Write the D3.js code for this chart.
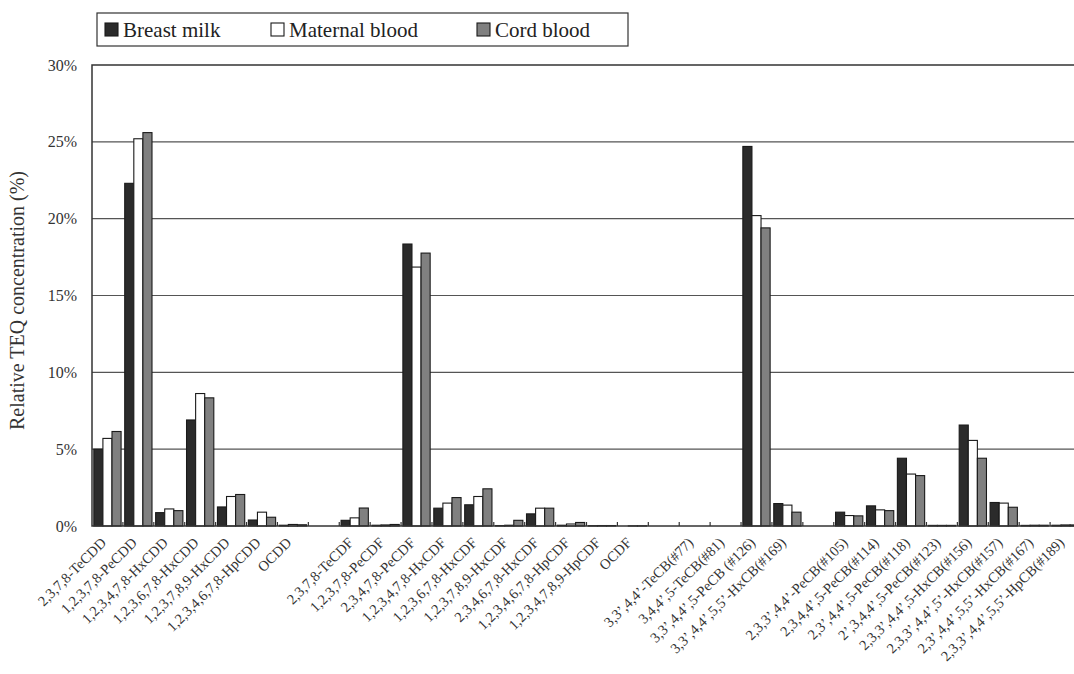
<!DOCTYPE html>
<html>
<head>
<meta charset="utf-8">
<script src="https://cdn.jsdelivr.net/npm/d3@7"></script>
<style>
  body { margin: 0; background: #fff; }
  svg { display: block; font-family: "Liberation Serif", "DejaVu Serif", serif; }
</style>
</head>
<body>
<div id="chart"></div>
<script>
// Congeners, in display order ("" = gap between groups)
const congeners = [
    "2,3,7,8-TeCDD", "1,2,3,7,8-PeCDD", "1,2,3,4,7,8-HxCDD", "1,2,3,6,7,8-HxCDD",
    "1,2,3,7,8,9-HxCDD", "1,2,3,4,6,7,8-HpCDD", "OCDD",
    "",
    "2,3,7,8-TeCDF", "1,2,3,7,8-PeCDF", "2,3,4,7,8-PeCDF", "1,2,3,4,7,8-HxCDF",
    "1,2,3,6,7,8-HxCDF", "1,2,3,7,8,9-HxCDF", "2,3,4,6,7,8-HxCDF",
    "1,2,3,4,6,7,8-HpCDF", "1,2,3,4,7,8,9-HpCDF", "OCDF",
    "",
    "3,3’,4,4’-TeCB(#77)", "3,4,4’,5-TeCB(#81)", "3,3’,4,4’,5-PeCB (#126)",
    "3,3’,4,4’,5,5’-HxCB(#169)",
    "",
    "2,3,3’,4,4’-PeCB(#105)", "2,3,4,4’,5-PeCB(#114)", "2,3’,4,4’,5-PeCB(#118)",
    "2’,3,4,4’,5-PeCB(#123)", "2,3,3’,4,4’,5-HxCB(#156)", "2,3,3’,4,4’,5’-HxCB(#157)",
    "2,3’,4,4’,5,5’-HxCB(#167)", "2,3,3’,4,4’,5,5’-HpCB(#189)"
];

// Relative TEQ concentration (%), null for gaps
const breastMilk = [
    5.0, 22.3, 0.87, 6.9, 1.24, 0.39, 0.05,
    null,
    0.37, 0.05, 18.35, 1.16, 1.38, 0.03, 0.79, 0.05, 0.02, 0.0,
    null,
    0.0, 0.0, 24.7, 1.46,
    null,
    0.9, 1.31, 4.41, 0.04, 6.57, 1.53, 0.04, 0.05
];
const maternalBlood = [
    5.7, 25.2, 1.11, 8.62, 1.92, 0.9, 0.1,
    null,
    0.53, 0.07, 16.85, 1.49, 1.92, 0.05, 1.16, 0.13, 0.03, 0.01,
    null,
    0.0, 0.0, 20.2, 1.36,
    null,
    0.68, 1.05, 3.38, 0.04, 5.57, 1.49, 0.05, 0.07
];
const cordBlood = [
    6.15, 25.6, 1.0, 8.34, 2.05, 0.57, 0.08,
    null,
    1.17, 0.1, 17.76, 1.85, 2.42, 0.37, 1.16, 0.23, 0.03, 0.01,
    null,
    0.0, 0.0, 19.4, 0.9,
    null,
    0.66, 1.0, 3.28, 0.04, 4.41, 1.22, 0.05, 0.07
];

const seriesNames = ["Breast milk", "Maternal blood", "Cord blood"];
const seriesValues = [breastMilk, maternalBlood, cordBlood];
const yTicks = [0, 5, 10, 15, 20, 25, 30];

const W = 1074, H = 674;
const margin = {top: 65, right: -7, bottom: 148, left: 92};
const width = W - margin.left - margin.right;
const height = H - margin.top - margin.bottom;

const svg = d3.select("#chart").append("svg")
    .attr("width", W)
    .attr("height", H);

const g = svg.append("g")
    .attr("transform", `translate(${margin.left},${margin.top})`);

// Scales
const x = d3.scaleBand()
    .domain(d3.range(congeners.length))
    .range([0, width]);

const xInner = d3.scaleBand()
    .domain(d3.range(seriesNames.length))
    .range([0, x.bandwidth()])
    .paddingOuter(0.2);

const y = d3.scaleLinear()
    .domain([0, 30])
    .range([height, 0]);

const color = d3.scaleOrdinal()
    .domain(seriesNames)
    .range(["#2b2b2b", "#ffffff", "#808080"]);

// Gridlines
g.append("g")
    .selectAll("line")
    .data(yTicks.filter(d => d > 0 && d < 30))
    .join("line")
    .attr("x1", 0)
    .attr("x2", width)
    .attr("y1", d => y(d))
    .attr("y2", d => y(d))
    .attr("stroke", "#555")
    .attr("stroke-width", 1.2);

// Bars
const rows = [];
congeners.forEach((c, i) => {
    seriesNames.forEach((s, j) => {
        const v = seriesValues[j][i];
        if (v !== null) rows.push({i, j, s, v});
    });
});

g.append("g")
    .selectAll("rect")
    .data(rows)
    .join("rect")
    .attr("x", d => x(d.i) + xInner(d.j))
    .attr("width", xInner.bandwidth())
    .attr("y", d => y(d.v))
    .attr("height", d => y(0) - y(d.v))
    .attr("fill", d => color(d.s))
    .attr("stroke", "#1a1a1a")
    .attr("stroke-width", 1.1);

// Plot frame
g.append("rect")
    .attr("x", 0)
    .attr("y", 0)
    .attr("width", width)
    .attr("height", height)
    .attr("fill", "none")
    .attr("stroke", "#333")
    .attr("stroke-width", 1.5);

// Category boundary ticks on the x axis
g.append("g")
    .selectAll("line")
    .data(d3.range(1, congeners.length))
    .join("line")
    .attr("x1", d => x(d))
    .attr("x2", d => x(d))
    .attr("y1", height)
    .attr("y2", height - 4)
    .attr("stroke", "#333")
    .attr("stroke-width", 1.2);

// Y axis labels
g.append("g")
    .selectAll("text")
    .data(yTicks)
    .join("text")
    .attr("x", -15)
    .attr("y", d => y(d))
    .attr("dy", "0.35em")
    .attr("text-anchor", "end")
    .style("font-size", "16px")
    .style("fill", "#333")
    .text(d => d + "%");

// Y axis title
svg.append("text")
    .attr("transform", `translate(24,${margin.top + height / 2 + 5}) rotate(-90)`)
    .attr("text-anchor", "middle")
    .style("font-size", "20px")
    .style("fill", "#333")
    .text("Relative TEQ concentration (%)");

// X labels, rotated
g.append("g")
    .selectAll("text")
    .data(congeners.map((c, i) => ({c, i})).filter(d => d.c !== ""))
    .join("text")
    .attr("transform", d => `translate(${x(d.i) + x.bandwidth() / 2 - 4},${height + 14}) rotate(-45)`)
    .attr("text-anchor", "end")
    .attr("dy", "0.35em")
    .style("font-size", "14.5px")
    .style("fill", "#333")
    .text(d => d.c);

// Legend
const legend = svg.append("g")
    .attr("transform", "translate(97,13)");

legend.append("rect")
    .attr("width", 531)
    .attr("height", 33)
    .attr("fill", "#fff")
    .attr("stroke", "#333")
    .attr("stroke-width", 1.2);

const legendX = [8, 174, 380];
seriesNames.forEach((s, i) => {
    const item = legend.append("g")
        .attr("transform", `translate(${legendX[i]},10)`);
    item.append("rect")
        .attr("width", 13)
        .attr("height", 13)
        .attr("fill", color(s))
        .attr("stroke", "#1a1a1a")
        .attr("stroke-width", 1.1);
    item.append("text")
        .attr("x", 18)
        .attr("y", 7)
        .attr("dy", "0.35em")
        .style("font-size", "21px")
        .style("fill", "#222")
        .text(s);
});
</script>
</body>
</html>
